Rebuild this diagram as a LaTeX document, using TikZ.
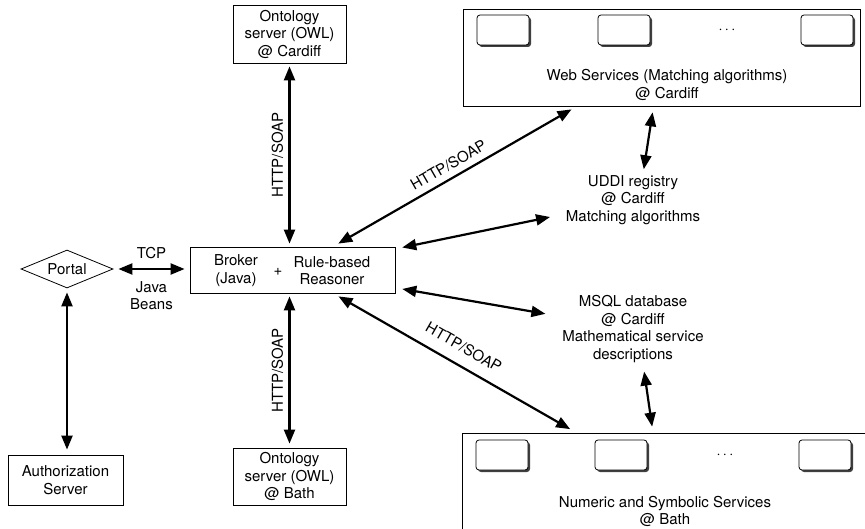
\documentclass[tikz,border=0pt]{standalone}
\usepackage{fontspec}
\setmainfont{TeX Gyre Heros}
\usetikzlibrary{arrows.meta,shapes.geometric,shadows}

\begin{document}
\begin{tikzpicture}[x=1pt,y=-1pt,
    font=\fontsize{15}{17.5}\selectfont,
    box/.style={draw,line width=0.8pt,align=center,inner sep=0pt},
    plain/.style={align=center,inner sep=1pt},
    service/.style={draw,line width=0.8pt,rounded corners=3pt,fill=white,
      minimum width=52pt,minimum height=30pt,
      drop shadow={shadow xshift=2pt,shadow yshift=-2pt,fill=black!75,opacity=1}},
    link/.style={line width=2.2pt,
      {Triangle[length=14pt,width=11pt]}-{Triangle[length=14pt,width=11pt]}}]
    \useasboundingbox (0,0) rectangle (865,529);
    \clip (0,0) rectangle (865,529);

    \node[box,minimum width=113pt,minimum height=58pt] (owlcdf) at (289.5,34) {Ontology\\server (OWL)\\@ Cardiff};
    \node[box,minimum width=113pt,minimum height=57pt] (owlbath) at (289.5,476.5) {Ontology\\server (OWL)\\@ Bath};

    \node[box,minimum width=205pt,minimum height=46pt] (broker) at (292.5,270) {};
    \node[plain] (brk) at (236,270.5) {Broker\\(Java)};
    \node[plain] (plus) at (278,272) {+};
    \node[plain] (rsn) at (332,270.5) {Rule-based\\Reasoner};

    \node[draw,line width=0.8pt,diamond,aspect=2.4,inner sep=0pt,
      minimum width=92pt,minimum height=38pt] (portal) at (67,269) {Portal};
    \node[box,minimum width=115pt,minimum height=50pt] (auth) at (65.5,480) {Authorization\\Server};

    \node[box,minimum width=397pt,minimum height=97pt] (web) at (661.5,57.5) {};
    \node[service] (ws1) at (503,30) {};
    \node[service] (ws2) at (624,30) {};
    \node[service] (ws3) at (827,30) {};
    \node[plain] (wsdots) at (727,30) {$\cdots$};
    \node[plain] (webtxt) at (667,85) {Web Services (Matching algorithms)\\@ Cardiff};

    \node[box,minimum width=451pt,minimum height=127pt] (bath) at (687.5,496.5) {};
    \node[service] (ns1) at (502,455) {};
    \node[service] (ns2) at (621,455) {};
    \node[service] (ns3) at (825,455) {};
    \node[plain] (nsdots) at (725,455) {$\cdots$};
    \node[plain] (bathtxt) at (665,511.5) {Numeric and Symbolic Services\\@ Bath};

    \node[plain] (uddi) at (633,200) {UDDI registry\\@ Cardiff\\Matching algorithms};
    \node[plain] (msql) at (633,329) {MSQL database\\@ Cardiff\\Mathematical service\\descriptions};

    \draw[link,shorten <=5pt,shorten >=5pt] (portal.east) -- (broker.west |- portal.east)
      node[midway,above=6pt] {TCP}
      node[midway,below=8pt,align=center] {Java\\Beans};
    \draw[link,shorten <=4pt,shorten >=5pt] (portal.south) -- (auth.north -| portal.south);
    \draw[link,shorten <=3pt,shorten >=3pt] (broker.north -| owlcdf.south) -- (owlcdf.south)
      node[midway,sloped,above=2pt] {HTTP/SOAP};
    \draw[link,shorten <=4pt,shorten >=3pt] (owlbath.north) -- (broker.south -| owlbath.north)
      node[midway,sloped,above=2pt] {HTTP/SOAP};
    \draw[link,shorten <=6pt,shorten >=6pt] (broker) -- (web)
      node[midway,sloped,above=3pt] {HTTP/SOAP};
    \draw[link,shorten <=7pt,shorten >=15pt] (broker) -- (uddi);
    \draw[link,shorten <=7pt,shorten >=16pt] (broker) -- (msql);
    \draw[link,shorten <=6pt,shorten >=7pt] (broker) -- (bath)
      node[midway,sloped,above=8pt] {HTTP/SOAP};
    \draw[link,shorten <=5pt,shorten >=6pt] ([xshift=10pt]uddi.north) -- ([xshift=-8pt]web.south);
    \draw[link,shorten <=8pt,shorten >=6pt] ([xshift=10pt]msql.south) -- ([xshift=-34.5pt]bath.north);
\end{tikzpicture}
\end{document}
